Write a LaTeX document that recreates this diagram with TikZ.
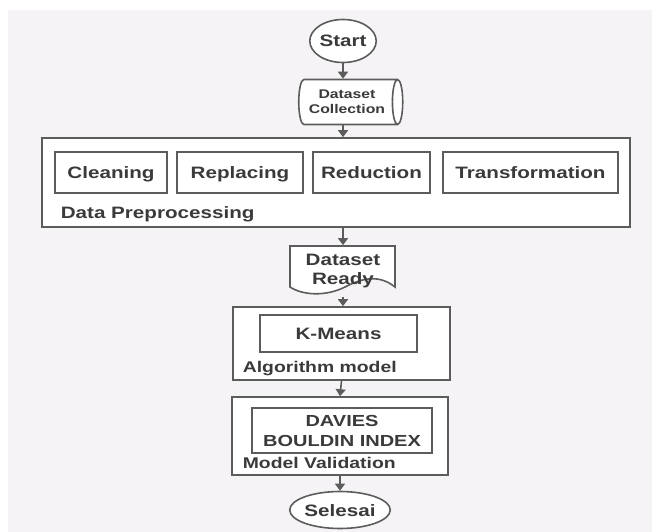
\documentclass[tikz,border=0pt]{standalone}
\usepackage{fontspec}
\newfontfamily\flowfont[FakeStretch=1.25]{Liberation Sans}
\usetikzlibrary{shapes.geometric,arrows.meta}
\definecolor{linegray}{HTML}{5C5C5C}
\definecolor{textgray}{HTML}{3A3A3A}
\definecolor{paper}{HTML}{F6F3F6}

\begin{document}
\begin{tikzpicture}[x=1pt,y=-1pt,line width=1.6pt,color=linegray,
    txt/.style={text=textgray,font=\flowfont\bfseries\fontsize{16.5}{19}\selectfont},
    term/.style={txt,ellipse,draw,fill=white,inner sep=0pt,text height=12,text depth=0},
    frame/.style={txt,draw,fill=white,inner sep=0pt},
    box/.style={frame,minimum height=41,text height=12,text depth=0},
    outer/.style={draw,fill=white,inner sep=0pt},
    caption/.style={txt,font=\flowfont\bfseries\fontsize{15.5}{18}\selectfont,anchor=base west,inner sep=0pt},
    flow/.style={-{Triangle[width=10pt,length=7pt]}}]
  \useasboundingbox (0,0) rectangle (656,532);
  \fill[paper] (8,10) rectangle (652,532);

  \node[term,minimum width=64,minimum height=43] (start) at (343,41) {Start};
  \node[txt,cylinder,draw,fill=white,aspect=0.4,minimum width=45,minimum height=104,
        align=center,inner sep=1pt,font=\flowfont\bfseries\fontsize{12.6}{15}\selectfont]
        (collect) at (347,102) {Dataset\\Collection};

  % data preprocessing
  \node[outer,minimum width=588,minimum height=89] (prep) at (336,182.5) {};
  \node[box,minimum width=112] (clean) at (111,172.5) {Cleaning};
  \node[box,minimum width=126] (replace) at (240,172.5) {Replacing};
  \node[box,minimum width=117] (reduce) at (371.5,172.5) {Reduction};
  \node[box,minimum width=175] (transform) at (530.5,172.5) {Transformation};
  \node[caption,font=\flowfont\bfseries\fontsize{16.5}{19}\selectfont] (preplabel) at (60,218) {Data Preprocessing};

  % document shape
  \draw[fill=white] (290,246) -- (395,246) -- (395,287)
    .. controls (380,275) and (364,277) .. (345,287)
    .. controls (325,297) and (302,295) .. (290,287) -- cycle;
  \node[txt,align=center,minimum height=50,inner sep=0pt] (ready) at (343,271) {Dataset\\Ready};

  % algorithm model
  \node[outer,minimum width=217,minimum height=73] (algo) at (341.5,343.5) {};
  \node[box,minimum width=157,minimum height=37] (kmeans) at (338.5,333.5) {K-Means};
  \node[caption] (algolabel) at (242,372) {Algorithm model};

  % model validation
  \node[outer,minimum width=216,minimum height=78] (valid) at (340,436) {};
  \node[frame,minimum width=180,minimum height=45,align=center,
        font=\flowfont\bfseries\fontsize{16}{20}\selectfont] (dbi) at (342,430.5) {DAVIES\\BOULDIN INDEX};
  \node[caption] (validlabel) at (242,468) {Model Validation};

  \node[term,minimum width=80,minimum height=37] (finish) at (340,510) {Selesai};

  \draw[flow] (start.south) -- (start.south |- collect.north);
  \draw[flow] (start.south |- collect.south) -- (start.south |- prep.north);
  \draw[flow] (prep.south -| ready) -- (ready.north);
  \draw[flow] (ready.south) -- (ready.south |- algo.north);
  \draw[flow] (algo.south) -- (valid.north);
  \draw[flow] (valid.south) -- (finish.north);
\end{tikzpicture}
\end{document}
